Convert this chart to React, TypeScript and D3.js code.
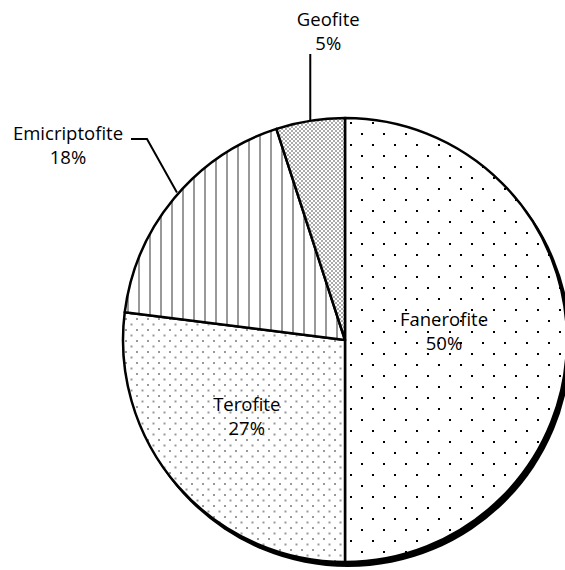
import React, { useEffect, useRef } from 'react';
import * as d3 from 'd3';

const categories = ['Fanerofite', 'Terofite', 'Emicriptofite', 'Geofite'];
const values = [50, 27, 18, 5];
const labels = ['50%', '27%', '18%', '5%'];

const W = 565;
const H = 570;
const cx = 345;
const cy = 340;
const R = 222;

const App: React.FC = () => {
    const svgRef = useRef<SVGSVGElement>(null);

    useEffect(() => {
        document.body.style.margin = '0';
        document.documentElement.style.overflow = 'hidden';
        if (!svgRef.current) return;
        const svg = d3.select(svgRef.current);
        svg.selectAll('*').remove();

        const defs = svg.append('defs');

        // Fanerofite: sparse black dots
        const p0 = defs.append('pattern').attr('id', 'pat0').attr('patternUnits', 'userSpaceOnUse')
            .attr('width', 22).attr('height', 22).attr('x', cx + 1).attr('y', cy + 3);
        p0.append('rect').attr('width', 22).attr('height', 22).attr('fill', '#fff');
        p0.append('rect').attr('x', 0).attr('y', 0).attr('width', 2).attr('height', 2).attr('fill', '#000');
        p0.append('rect').attr('x', 11).attr('y', 11).attr('width', 2).attr('height', 2).attr('fill', '#000');

        // Terofite: dense gray dots
        const p1 = defs.append('pattern').attr('id', 'pat1').attr('patternUnits', 'userSpaceOnUse')
            .attr('width', 11).attr('height', 11).attr('x', 0).attr('y', 0);
        p1.append('rect').attr('width', 11).attr('height', 11).attr('fill', '#fff');
        p1.append('rect').attr('x', 0).attr('y', 0).attr('width', 2).attr('height', 2).attr('fill', '#999');
        p1.append('rect').attr('x', 5.5).attr('y', 5.5).attr('width', 2).attr('height', 2).attr('fill', '#999');

        // Emicriptofite: vertical gray lines
        const p2 = defs.append('pattern').attr('id', 'pat2').attr('patternUnits', 'userSpaceOnUse')
            .attr('width', 11).attr('height', 11).attr('x', 2).attr('y', 0);
        p2.append('rect').attr('width', 11).attr('height', 11).attr('fill', '#fff');
        p2.append('rect').attr('x', 0).attr('y', 0).attr('width', 2).attr('height', 11).attr('fill', '#999');

        // Geofite: fine gray checker
        const p3 = defs.append('pattern').attr('id', 'pat3').attr('patternUnits', 'userSpaceOnUse')
            .attr('width', 4).attr('height', 4);
        p3.append('rect').attr('width', 4).attr('height', 4).attr('fill', '#fff');
        p3.append('rect').attr('x', 0).attr('y', 0).attr('width', 2).attr('height', 2).attr('fill', '#aaa');
        p3.append('rect').attr('x', 2).attr('y', 2).attr('width', 2).attr('height', 2).attr('fill', '#aaa');

        const pie = d3.pie<number>().sort(null).value(d => d);
        const arcs = pie(values);
        const arc = d3.arc<d3.PieArcDatum<number>>().innerRadius(0).outerRadius(R);

        const g = svg.append('g').attr('transform', `translate(${cx},${cy})`);

        // shadow
        g.append('circle').attr('cx', 3).attr('cy', 4).attr('r', R + 1).attr('fill', '#000');

        g.selectAll('path.slice')
            .data(arcs)
            .join('path')
            .attr('class', 'slice')
            .attr('d', arc)
            .attr('fill', (_, i) => `url(#pat${i})`)
            .attr('stroke', '#000')
            .attr('stroke-width', 2.5)
            .attr('stroke-linejoin', 'round');

        const font = "'Open Sans', 'Noto Sans', sans-serif";
        const fs = 18.5;

        const addLabel = (x: number, y: number, i: number) => {
            const t = svg.append('text').attr('x', x).attr('y', y).attr('text-anchor', 'middle')
                .attr('font-family', font).attr('font-size', fs).attr('fill', '#000');
            t.append('tspan').attr('x', x).attr('dy', 0).text(categories[i]);
            t.append('tspan').attr('x', x).attr('dy', 24).text(labels[i]);
        };

        // inside labels
        const labelArc = d3.arc<d3.PieArcDatum<number>>().innerRadius(R * 0.5).outerRadius(R * 0.5);
        const c0 = labelArc.centroid(arcs[0]);
        addLabel(cx + c0[0] - 12, cy + c0[1] - 14, 0);
        const c1 = labelArc.centroid(arcs[1]);
        addLabel(cx + c1[0] - 15, cy + c1[1] - 2, 1);

        // outside labels with leader lines
        const edge = (a: d3.PieArcDatum<number>, r: number) => {
            const m = (a.startAngle + a.endAngle) / 2;
            return [cx + Math.sin(m) * r, cy - Math.cos(m) * r];
        };

        const e2 = edge(arcs[2], R);
        svg.append('path')
            .attr('d', d3.line()([[131, 139], [147, 139], [e2[0] + 3, e2[1] - 6]]))
            .attr('fill', 'none').attr('stroke', '#000').attr('stroke-width', 2);
        addLabel(68, 140, 2);

        const e3 = edge(arcs[3], R);
        svg.append('path')
            .attr('d', d3.line()([[e3[0], 54], [e3[0], e3[1]]]))
            .attr('fill', 'none').attr('stroke', '#000').attr('stroke-width', 2);
        addLabel(e3[0] + 18, 26, 3);
    }, []);

    return <svg ref={svgRef} width={W} height={H} style={{ display: 'block' }} />;
};

export default App;
